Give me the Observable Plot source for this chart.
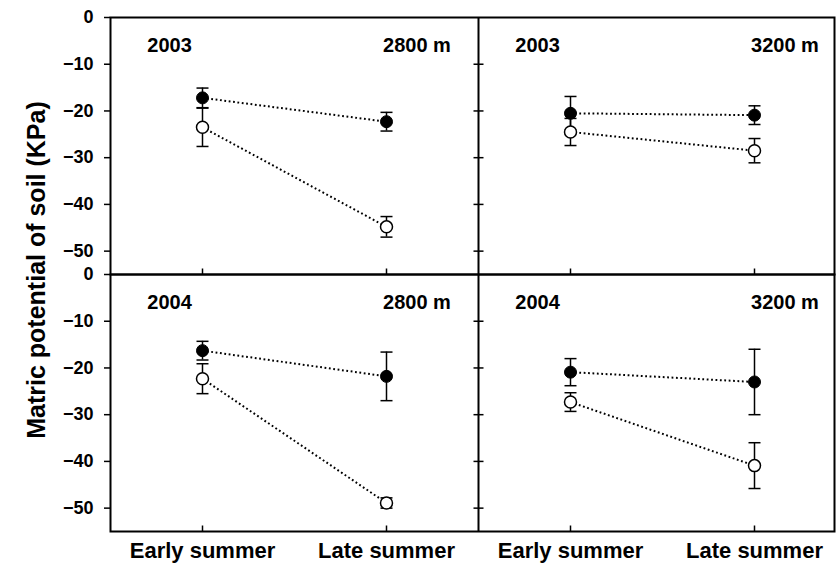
<!DOCTYPE html>
<html>
<head>
<meta charset="utf-8">
<script src="https://cdn.jsdelivr.net/npm/d3@7"></script>
<script src="https://cdn.jsdelivr.net/npm/@observablehq/plot@0.6"></script>
<style>
  html, body { margin: 0; padding: 0; background: #fff; }
  #chart svg { display: block; }
</style>
</head>
<body>
<div id="chart"></div>
<script>
// ---- data ----
const seasons = ["Early summer", "Late summer"];
const sites = ["2800 m", "3200 m"];
const years = ["2003", "2004"];
const yTicks = [0, -10, -20, -30, -40, -50];
const yTitle = "Matric potential of soil (KPa)";

// order in each array: 2800 m early, 2800 m late, 3200 m early, 3200 m late
const filledMean2003 = [-17.2, -22.3, -20.5, -20.9];
const filledErr2003  = [2.1, 2.0, 3.6, 2.0];
const openMean2003   = [-23.5, -44.8, -24.5, -28.5];
const openErr2003    = [4.1, 2.2, 2.9, 2.6];
const filledMean2004 = [-16.3, -21.8, -20.9, -23.0];
const filledErr2004  = [2.0, 5.2, 2.9, 7.0];
const openMean2004   = [-22.3, -48.9, -27.3, -40.9];
const openErr2004    = [3.2, 1.1, 2.0, 4.9];

const seriesTable = {
  "2003": {filled: [filledMean2003, filledErr2003], open: [openMean2003, openErr2003]},
  "2004": {filled: [filledMean2004, filledErr2004], open: [openMean2004, openErr2004]}
};

const rows = [];
years.forEach(year => {
  ["filled", "open"].forEach(series => {
    const [means, errs] = seriesTable[year][series];
    sites.forEach((site, si) => {
      seasons.forEach((season, ti) => {
        const k = si * 2 + ti;
        rows.push({year, series, site, si, season, ti,
          mean: means[k], err: errs[k]});
      });
    });
  });
});

// layout helpers
const xPos = (si, ti) => si + 0.25 + 0.5 * ti;
const xTickVals = [];
const xTickLabels = [];
sites.forEach((s, si) => seasons.forEach((season, ti) => { xTickVals.push(xPos(si, ti)); xTickLabels.push(season); }));

const panelLabels = [];
years.forEach(year => sites.forEach((site, si) => panelLabels.push({year, site, si})));

const capSymbol = { draw(ctx) { ctx.moveTo(-6, 0); ctx.lineTo(6, 0); } };
const crossTick = { draw(ctx) { ctx.moveTo(-5, 0); ctx.lineTo(5, 0); } };
const upTick = { draw(ctx) { ctx.moveTo(0, 0); ctx.lineTo(0, -6); } };

const font = "'Liberation Sans', Arial, Helvetica, sans-serif";

const chart = Plot.plot({
  width: 836,
  height: 568,
  marginLeft: 110,
  marginRight: 2,
  marginTop: 16,
  marginBottom: 37,
  style: {fontFamily: font, fontWeight: "bold", color: "black", background: "white"},
  x: {domain: [0, 724 / 368], axis: null},
  y: {domain: [-55, 0], axis: null},
  fy: {domain: years, padding: 0, axis: null},
  marks: [
    // dotted connecting lines
    Plot.line(rows, {
      x: d => xPos(d.si, d.ti), y: "mean", fy: "year",
      z: d => d.series + d.site,
      stroke: "black", strokeWidth: 2, strokeDasharray: "1.8,2.6", strokeLinecap: "butt"
    }),
    // error bars
    Plot.ruleX(rows, {
      x: d => xPos(d.si, d.ti), y1: d => d.mean - d.err, y2: d => d.mean + d.err, fy: "year",
      stroke: "black", strokeWidth: 1.5
    }),
    Plot.dot(rows, {
      x: d => xPos(d.si, d.ti), y: d => d.mean - d.err, fy: "year",
      symbol: capSymbol, stroke: "black", fill: "none", strokeWidth: 1.5
    }),
    Plot.dot(rows, {
      x: d => xPos(d.si, d.ti), y: d => d.mean + d.err, fy: "year",
      symbol: capSymbol, stroke: "black", fill: "none", strokeWidth: 1.5
    }),
    // markers
    Plot.dot(rows.filter(d => d.series === "open"), {
      x: d => xPos(d.si, d.ti), y: "mean", fy: "year",
      r: 6, fill: "white", stroke: "black", strokeWidth: 1.5
    }),
    Plot.dot(rows.filter(d => d.series === "filled"), {
      x: d => xPos(d.si, d.ti), y: "mean", fy: "year",
      r: 6, fill: "black", stroke: "black", strokeWidth: 1
    }),
    // panel frames and divider
    Plot.frame({stroke: "black", strokeWidth: 2}),
    Plot.ruleX([1], {stroke: "black", strokeWidth: 2}),
    // divider ticks
    Plot.dot(yTicks.slice(1), {x: () => 1, y: d => d, symbol: crossTick, stroke: "black", fill: "none", strokeWidth: 1.5}),
    // x ticks (pointing up, inside each panel)
    Plot.dot(xTickVals, {x: d => d, frameAnchor: "bottom", symbol: upTick, stroke: "black", fill: "none", strokeWidth: 1.5}),
    // y axis
    Plot.axisY({
      ticks: yTicks, label: null,
      tickFormat: d => d === 0 ? "0" : "\u2212" + Math.abs(d),
      tickSize: 6, tickPadding: 11, fontSize: 18, fontWeight: "bold",
      stroke: "black", strokeWidth: 1.5
    }),
    // x axis labels
    Plot.axisX({
      ticks: xTickVals, label: null,
      tickFormat: (d, i) => xTickLabels[i],
      tickSize: 0, tickPadding: 11, fontSize: 22, fontWeight: "bold"
    }),
    // panel labels
    Plot.text(panelLabels, {
      x: d => d.si + 0.1, fy: "year", text: "year", frameAnchor: "top",
      dy: 28, textAnchor: "start", lineAnchor: "middle", fontSize: 20, fontWeight: "bold", fill: "black"
    }),
    Plot.text(panelLabels, {
      x: d => d.si + 0.925, fy: "year", text: "site", frameAnchor: "top",
      dy: 28, textAnchor: "end", lineAnchor: "middle", fontSize: 20, fontWeight: "bold", fill: "black"
    })
  ]
});

d3.select(chart).append("text")
  .attr("transform", "translate(45,270) rotate(-90)")
  .attr("text-anchor", "middle")
  .attr("font-family", font)
  .attr("font-weight", "bold")
  .attr("font-size", 25)
  .attr("fill", "black")
  .text(yTitle);

document.getElementById("chart").appendChild(chart);
</script>
</body>
</html>
